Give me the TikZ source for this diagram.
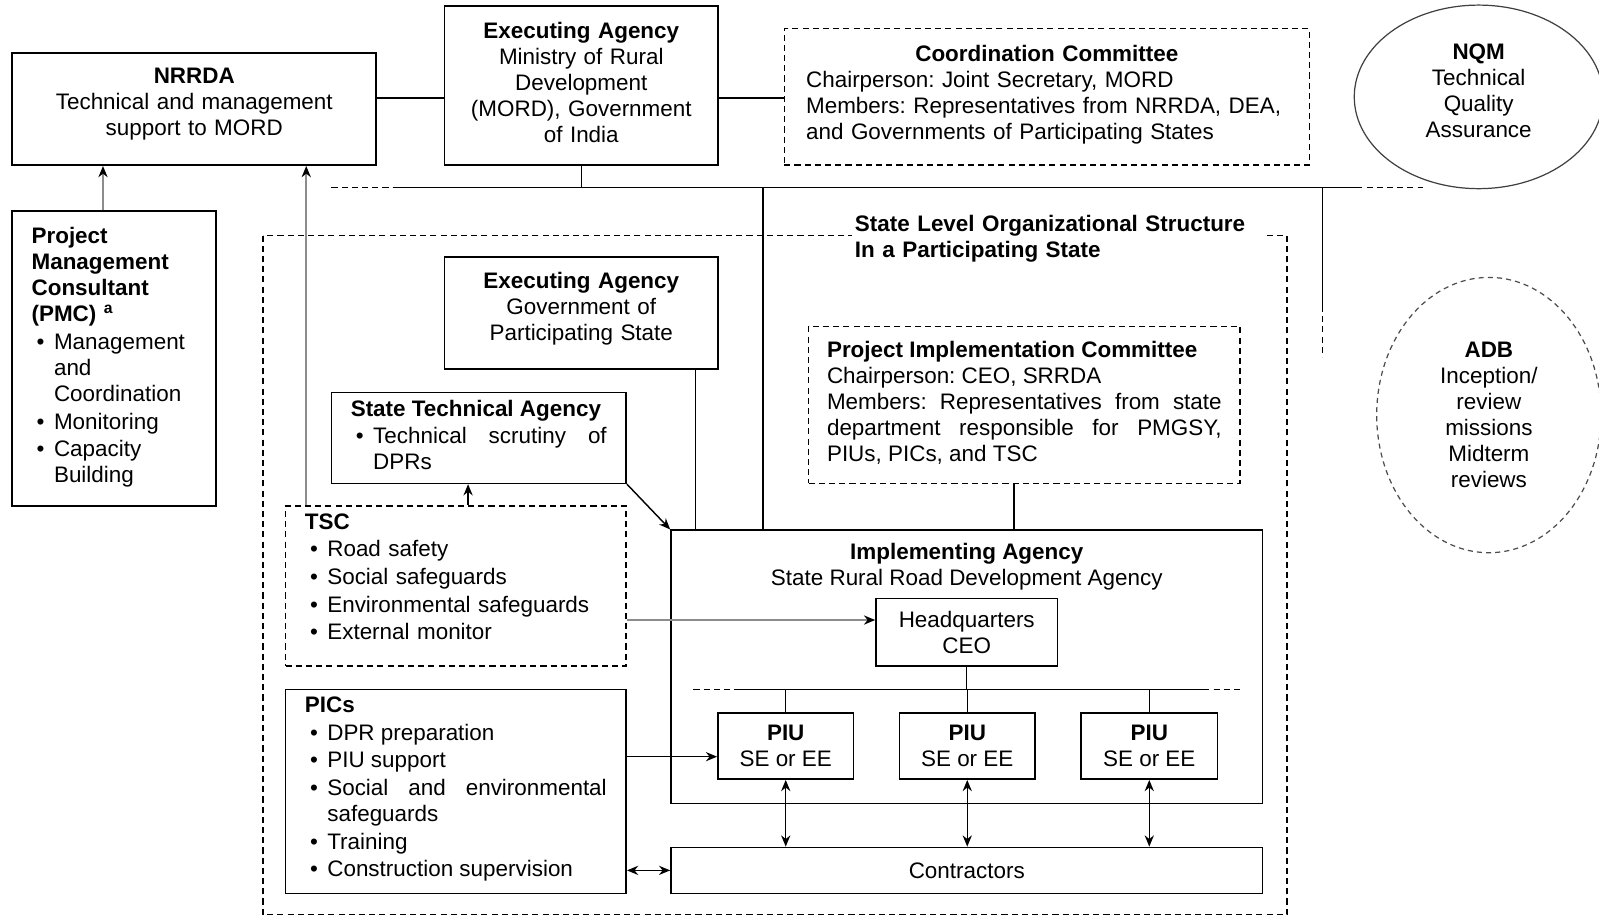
\documentclass[tikz,border=0pt]{standalone}
\usepackage{fontspec}
\setmainfont{Liberation Sans}
\usetikzlibrary{arrows.meta, shapes.geometric}

\hyphenpenalty=10000
\exhyphenpenalty=10000
\frenchspacing
% bullet item with hanging indent
\newcommand{\bul}{\par\vspace{0.8pt}\hangindent=11pt\hangafter=1\noindent\makebox[11pt][l]{\hspace{2.5pt}\textbullet}}
% extra room under the text, lifts it inside its box
\newcommand{\lift}[1]{\par\kern#1}

\begin{document}
\begin{tikzpicture}[x=0.5pt, y=-0.5pt,
  font=\fontsize{11pt}{12.75pt}\selectfont,
  sz/.style 2 args={minimum width=#1, minimum height=#2},
  box/.style={draw, line width=0.8pt, inner sep=0pt, align=center},
  dbox/.style={box, line width=0.7pt, dash pattern=on 3pt off 2pt},
  line/.style={line width=0.7pt},
  dline/.style={line, dash pattern=on 3pt off 2pt},
  arr/.style={line, -{Stealth[length=5.5pt, width=4.5pt]}},
  darr/.style={line, {Stealth[length=5.5pt, width=4.5pt]}-{Stealth[length=5.5pt, width=4.5pt]}},
  garr/.style={line width=0.9pt, black!45, -{Stealth[length=5.5pt, width=4.5pt, color=black]}}
]
\useasboundingbox (0,0) rectangle (1568,899);

% national level
\node[box, sz={178.5pt}{55pt}, text width=170pt] (nrrda) at (190.5,107)
  {\textbf{NRRDA}\\Technical and management\\support to MORD\lift{4.7pt}};
\node[box, sz={134pt}{78pt}, text width=130pt] (ea) at (570,84)
  {\textbf{Executing Agency}\\Ministry of Rural\\Development\\(MORD), Government\\of India\lift{3pt}};
\node[dbox, sz={257.5pt}{67pt}, text width=236pt, align=left] (cc) at (1026.5,95)
  {{\centering\textbf{Coordination Committee}\par}
   Chairperson: Joint Secretary, MORD\\
   Members: Representatives from NRRDA, DEA,\\
   and Governments of Participating States\lift{2.5pt}};
\node[ellipse, draw=black!75, line width=0.6pt, inner sep=0pt, align=center, text width=60pt, sz={122pt}{90pt}] (nqm) at (1450,95)
  {\textbf{NQM}\\Technical\\Quality\\Assurance\lift{6pt}};
\node[box, sz={100pt}{144.5pt}, text width=81pt, align=left] (pmc) at (112,351.5)
  {\textbf{Project\\Management\\Consultant\\(PMC)}~\textsuperscript{\textbf{a}}%
   \bul Management\newline and\newline Coordination
   \bul Monitoring
   \bul Capacity\newline Building\lift{1pt}};

% state level frame
\draw[dline, line width=0.6pt] (258,231) rectangle (1262,897);
\node[fill=white, inner xsep=1.5pt, inner ysep=0pt, text width=200pt, align=left, anchor=west] (slos) at (835,234)
  {\textbf{State Level Organizational Structure\\In a Participating State}};

\node[box, sz={134pt}{55pt}, text width=130pt] (eas) at (570,307)
  {\textbf{Executing Agency}\\Government of\\Participating State\lift{4.5pt}};
\node[box, sz={144.5pt}{44.5pt}, text width=125.5pt, align=justify] (sta) at (469.5,429.5)
  {\textbf{State Technical Agency}\bul Technical scrutiny of\linebreak DPRs\lift{3pt}};
\node[dbox, sz={167pt}{78.5pt}, text width=148pt, align=left] (tsc) at (447,574.5)
  {\textbf{TSC}\bul Road safety\bul Social safeguards\bul Environmental safeguards\bul External monitor\lift{8.8pt}};
\node[box, sz={167pt}{100pt}, text width=148pt, align=justify] (pics) at (447,776)
  {\textbf{PICs}\bul DPR preparation\bul PIU support\bul Social and environmental\linebreak safeguards\bul Training\bul Construction supervision\lift{2pt}};
\node[dbox, sz={211.5pt}{77pt}, text width=193.5pt, align=justify] (pic) at (1004.5,397)
  {\textbf{Project Implementation Committee}\par
   Chairperson: CEO, SRRDA\par
   Members: Representatives from state\linebreak department responsible for PMGSY,\linebreak PIUs, PICs, and TSC\lift{2pt}};

\node[box, sz={290pt}{134pt}] (ia) at (948,654) {};
\node[inner sep=0pt, align=center] (iat) at (948,556) {\textbf{Implementing Agency}\\State Rural Road Development Agency};
\node[box, sz={89pt}{33pt}] (hq) at (948,620) {Headquarters\\CEO};
\node[box, sz={66.5pt}{32.5pt}] (piu1) at (770.5,731.5) {\textbf{PIU}\\SE or EE};
\node[box, sz={66.5pt}{32.5pt}] (piu2) at (948.5,731.5) {\textbf{PIU}\\SE or EE};
\node[box, sz={67pt}{32.5pt}] (piu3) at (1127,731.5) {\textbf{PIU}\\SE or EE};
\node[box, sz={290pt}{22.5pt}] (con) at (948,853.5) {Contractors};

\node[ellipse, draw=black!70, line width=0.6pt, dash pattern=on 2.5pt off 2pt, inner sep=0pt, align=center,
  sz={110pt}{135pt}] (adb) at (1460,407) {\textbf{ADB}\\Inception/\\review\\missions\\Midterm\\reviews};

% connectors
\coordinate (lvl) at (0,96);
\coordinate (busW) at (325,184);
\coordinate (busA) at (385,184);
\coordinate (busB) at (1330,184);
\coordinate (busE) at (1395,184);
\coordinate (drop) at (748,184);
\coordinate (adbA) at (1297,184);
\coordinate (adbB) at (1297,300);
\coordinate (adbC) at (1297,350);
\coordinate (rowW) at (680,676);
\coordinate (rowA) at (720,676);
\coordinate (rowB) at (1180,676);
\coordinate (rowE) at (1217,676);

\draw[line] (nrrda.east |- lvl) -- (ea.west |- lvl);
\draw[line] (ea.east |- lvl) -- (cc.west |- lvl);
\draw[line] (ea.south) -- (ea.south |- busA);
\draw[dline] (busW) -- (busA);
\draw[line] (busA) -- (busB);
\draw[dline] (busB) -- (busE);
\draw[line] (drop) -- (drop |- ia.north);
\draw[line] (adbA) -- (adbB);
\draw[dline] (adbB) -- (adbC);

\draw[garr] ([xshift=-5.5pt]pmc.north) -- ([xshift=-5.5pt]pmc.north |- nrrda.south);
\draw[garr] ([xshift=10.5pt]tsc.north west) -- ([xshift=10.5pt]tsc.north west |- nrrda.south);
\draw[arr] ([xshift=6pt]tsc.north) -- ([xshift=6pt]tsc.north |- sta.south);
\draw[arr] (sta.south east) -- (ia.north west);
\draw[garr] ([yshift=6pt]hq.west -| tsc.east) -- ([yshift=6pt]hq.west);
\draw[line] ([xshift=-11.5pt]eas.south east) -- ([xshift=-11.5pt]eas.south east |- ia.north);
\draw[line] ([xshift=-5pt]pic.south) -- ([xshift=-5pt]pic.south |- ia.north);

\draw[line] (hq.south) -- (hq.south |- rowA);
\draw[dline] (rowW) -- (rowA);
\draw[line] (rowA) -- (rowB);
\draw[dline] (rowB) -- (rowE);
\foreach \p in {piu1,piu2,piu3} {
  \draw[line] (\p.north) -- (\p.north |- rowA);
  \draw[darr] (\p.south) -- (\p.south |- con.north);
}
\draw[arr] ([yshift=-5.25pt]piu1.west -| pics.east) -- ([yshift=-5.25pt]piu1.west);
\draw[darr] (con.west -| pics.east) -- (con.west);
\end{tikzpicture}
\end{document}
